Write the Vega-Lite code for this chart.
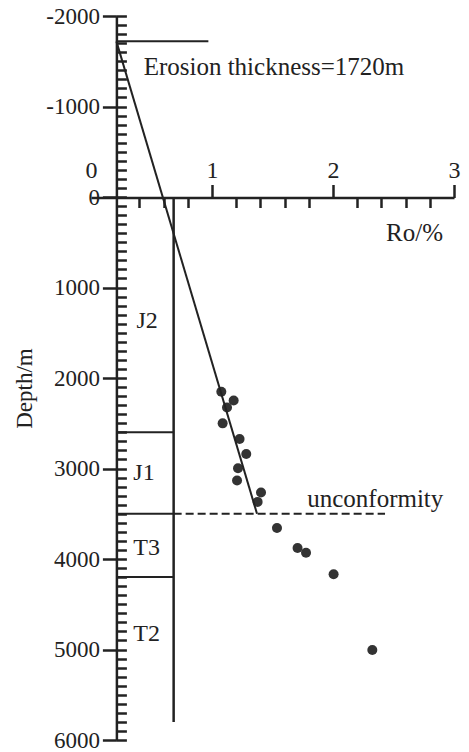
{
  "$schema": "https://vega.github.io/schema/vega-lite/v6.json",
  "width": 363,
  "height": 724,
  "autosize": {"type": "none"},
  "padding": {"left": 91, "top": 16, "right": 15, "bottom": 12},
  "background": "white",
  "config": {
    "view": {"stroke": null},
    "font": "Liberation Serif",
    "axis": {"labelFont": "Liberation Serif", "titleFont": "Liberation Serif", "labelColor": "#222", "titleColor": "#222", "tickColor": "#222", "domainColor": "#222", "grid": false, "labelFlush": false, "labelOverlap": false}
  },
  "datasets": {
    "points": [
      {"Ro": 1.077, "Depth": 2152},
      {"Ro": 1.179, "Depth": 2248},
      {"Ro": 1.124, "Depth": 2325},
      {"Ro": 1.088, "Depth": 2501},
      {"Ro": 1.228, "Depth": 2674},
      {"Ro": 1.283, "Depth": 2840},
      {"Ro": 1.215, "Depth": 2997},
      {"Ro": 1.207, "Depth": 3133},
      {"Ro": 1.405, "Depth": 3265},
      {"Ro": 1.377, "Depth": 3369},
      {"Ro": 1.537, "Depth": 3658},
      {"Ro": 1.707, "Depth": 3879},
      {"Ro": 1.777, "Depth": 3931},
      {"Ro": 2.005, "Depth": 4169},
      {"Ro": 2.325, "Depth": 5006}
    ],
    "trend": [
      {"Ro": 0.21, "Depth": -1720},
      {"Ro": 1.372, "Depth": 3500}
    ],
    "column": [
      {"Ro": 0.683, "Top": 0, "Bottom": 5800}
    ],
    "solidSegments": [
      {"Depth": -1720, "RoStart": 0.21, "RoEnd": 0.97},
      {"Depth": 2600, "RoStart": 0.21, "RoEnd": 0.683},
      {"Depth": 3500, "RoStart": 0.21, "RoEnd": 0.683},
      {"Depth": 4200, "RoStart": 0.21, "RoEnd": 0.683}
    ],
    "dashedSegments": [
      {"Depth": 3500, "RoStart": 0.683, "RoEnd": 2.43}
    ],
    "notes": [
      {"label": "Erosion thickness=1720m", "Ro": 0.435, "Depth": -1348},
      {"label": "unconformity", "Ro": 1.787, "Depth": 3425}
    ],
    "strata": [
      {"label": "J2", "Ro": 0.375, "Depth": 1449},
      {"label": "J1", "Ro": 0.35, "Depth": 3124},
      {"label": "T3", "Ro": 0.35, "Depth": 3952},
      {"label": "T2", "Ro": 0.35, "Depth": 4909}
    ]
  },
  "layer": [
    {
      "data": {"name": "points"},
      "mark": {"type": "circle", "size": 100, "color": "#333", "opacity": 1},
      "encoding": {
        "x": {
          "field": "Ro", "type": "quantitative",
          "scale": {"domain": [0, 3], "nice": false, "zero": false},
          "axis": {
            "orient": "top", "offset": -181.5, "values": [0, 1, 2, 3],
            "tickSize": 13, "tickWidth": 2.5, "domainWidth": 2.5,
            "labelFont": "Liberation Serif", "labelFontSize": 24, "labelPadding": 7, "labelBaseline": "alphabetic",
            "tickOpacity": {"condition": {"test": "datum.value === 0", "value": 0}, "value": 1},
            "title": "Ro/%", "titleFont": "Liberation Serif", "titleFontSize": 25, "titleFontWeight": "normal",
            "titleX": 323, "titleY": 35, "titleAlign": "center", "titleBaseline": "middle"
          }
        },
        "y": {
          "field": "Depth", "type": "quantitative",
          "scale": {"domain": [-2000, 6000], "nice": false, "zero": false, "reverse": true},
          "axis": {
            "orient": "left", "offset": -25.4,
            "values": [-2000, -1000, 0, 1000, 2000, 3000, 4000, 5000, 6000],
            "tickSize": 14, "tickWidth": 2.5, "domainWidth": 2.5,
            "labelFont": "Liberation Serif", "labelFontSize": 23, "labelPadding": 3,
            "labelExpr": "datum.value < 0 ? '-' + (-datum.value) : '' + datum.value",
            "title": "Depth/m", "titleFont": "Liberation Serif", "titleFontSize": 23, "titleFontWeight": "normal",
            "titleX": -92.4, "titleY": 372, "titleAlign": "center", "titleBaseline": "middle", "titleAngle": -90
          }
        }
      }
    },
    {
      "data": {"name": "column"},
      "mark": {"type": "rule", "color": "#222", "strokeWidth": 2.5},
      "encoding": {
        "x": {
          "field": "Ro", "type": "quantitative",
          "scale": {"domain": [0, 3], "nice": false, "zero": false},
          "axis": {
            "orient": "top", "offset": -181.5,
            "values": [0.4, 0.6, 0.8, 1.2, 1.4, 1.6, 1.8, 2.2, 2.4, 2.6, 2.8],
            "tickSize": -10, "tickWidth": 2.5, "domain": false, "labels": false, "title": null
          }
        },
        "y": {
          "field": "Top", "type": "quantitative",
          "scale": {"domain": [-2000, 6000], "nice": false, "zero": false, "reverse": true},
          "axis": {
            "orient": "left", "offset": -25.4,
            "values": [-2000,-1900,-1800,-1700,-1600,-1500,-1400,-1300,-1200,-1100,-1000,-900,-800,-700,-600,-500,-400,-300,-200,-100,0,100,200,300,400,500,600,700,800,900,1000,1100,1200,1300,1400,1500,1600,1700,1800,1900,2000,2100,2200,2300,2400,2500,2600,2700,2800,2900,3000,3100,3200,3300,3400,3500,3600,3700,3800,3900,4000,4100,4200,4300,4400,4500,4600,4700,4800,4900,5000,5100,5200,5300,5400,5500,5600,5700,5800,5900,6000],
            "tickSize": -10, "tickWidth": 2.5, "domain": false, "labels": false, "title": null
          }
        },
        "y2": {"field": "Bottom"}
      }
    },
    {
      "data": {"name": "trend"},
      "mark": {"type": "line", "color": "#222", "strokeWidth": 2},
      "encoding": {
        "x": {"field": "Ro", "type": "quantitative", "scale": {"domain": [0, 3], "nice": false, "zero": false}, "axis": null},
        "y": {"field": "Depth", "type": "quantitative", "scale": {"domain": [-2000, 6000], "nice": false, "zero": false, "reverse": true}, "axis": null}
      }
    },
    {
      "data": {"name": "solidSegments"},
      "mark": {"type": "rule", "color": "#222", "strokeWidth": 2},
      "encoding": {
        "x": {"field": "RoStart", "type": "quantitative", "scale": {"domain": [0, 3], "nice": false, "zero": false}, "axis": null},
        "x2": {"field": "RoEnd"},
        "y": {"field": "Depth", "type": "quantitative", "scale": {"domain": [-2000, 6000], "nice": false, "zero": false, "reverse": true}, "axis": null}
      }
    },
    {
      "data": {"name": "dashedSegments"},
      "mark": {"type": "rule", "color": "#222", "strokeWidth": 2, "strokeDash": [8, 4]},
      "encoding": {
        "x": {"field": "RoStart", "type": "quantitative", "scale": {"domain": [0, 3], "nice": false, "zero": false}, "axis": null},
        "x2": {"field": "RoEnd"},
        "y": {"field": "Depth", "type": "quantitative", "scale": {"domain": [-2000, 6000], "nice": false, "zero": false, "reverse": true}, "axis": null}
      }
    },
    {
      "data": {"name": "notes"},
      "mark": {"type": "text", "font": "Liberation Serif", "fontSize": 25, "color": "#222", "align": "left", "baseline": "alphabetic"},
      "encoding": {
        "x": {"field": "Ro", "type": "quantitative", "scale": {"domain": [0, 3], "nice": false, "zero": false}, "axis": null},
        "y": {"field": "Depth", "type": "quantitative", "scale": {"domain": [-2000, 6000], "nice": false, "zero": false, "reverse": true}, "axis": null},
        "text": {"field": "label"}
      }
    },
    {
      "data": {"name": "strata"},
      "mark": {"type": "text", "font": "Liberation Serif", "fontSize": 24, "color": "#222", "align": "left", "baseline": "alphabetic"},
      "encoding": {
        "x": {"field": "Ro", "type": "quantitative", "scale": {"domain": [0, 3], "nice": false, "zero": false}, "axis": null},
        "y": {"field": "Depth", "type": "quantitative", "scale": {"domain": [-2000, 6000], "nice": false, "zero": false, "reverse": true}, "axis": null},
        "text": {"field": "label"}
      }
    }
  ],
  "resolve": {"axis": {"x": "independent", "y": "independent"}}
}
